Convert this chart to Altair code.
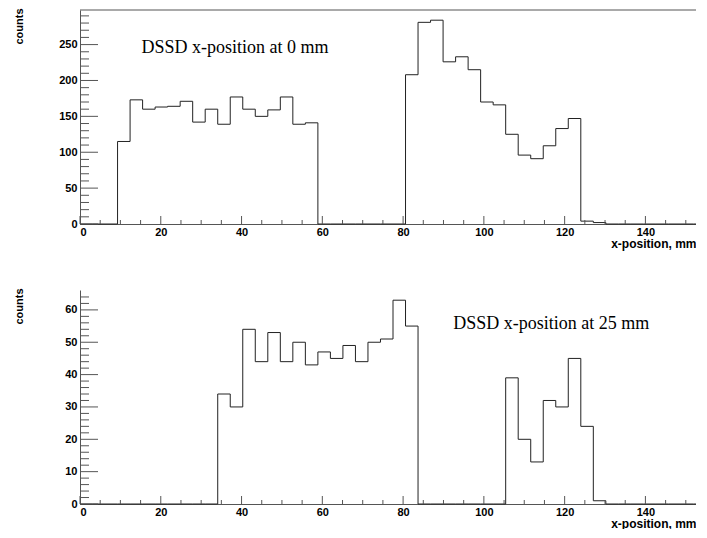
import altair as alt
import pandas as pd

# ---- data ----
BIN_WIDTH = 3.1
N_BINS = 50
X_MAX = 155

top_counts = [0, 0, 0,
              115, 173, 160, 163, 164, 171, 142, 160, 139, 177, 160, 150, 159, 177, 139, 141,
              0, 0, 0, 0, 0, 0, 0,
              208, 281, 284, 226, 233, 215, 170, 166, 125, 96, 91, 109, 133, 147, 4, 2,
              0, 0, 0, 0, 0, 0, 0, 0]

bottom_counts = [0, 0, 0, 0, 0, 0, 0, 0, 0, 0, 0,
                 34, 30, 54, 44, 53, 44, 50, 43, 47, 45, 49, 44, 50, 51, 63, 55,
                 0, 0, 0, 0, 0, 0, 0,
                 39, 20, 13, 32, 30, 45, 24, 1,
                 0, 0, 0, 0, 0, 0, 0, 0]

top_label = "DSSD x-position at 0 mm"
bottom_label = "DSSD x-position at 25 mm"
top_label_pos = (15.2, 238)
bottom_label_pos = (92.4, 54)

x_major = [0, 20, 40, 60, 80, 100, 120, 140]
x_minor = [v for v in range(5, 151, 5) if v % 20 != 0]
top_y_major = [0, 50, 100, 150, 200, 250]
top_y_minor = [v for v in range(10, 291, 10) if v % 50 != 0]
bottom_y_major = [0, 10, 20, 30, 40, 50, 60]
bottom_y_minor = [v for v in range(2, 65, 2) if v % 10 != 0]

W = 626
H = 214
AXIS_COLOR = "#555555"
LINE_COLOR = "#222222"
FONT = "Liberation Sans"


def step_frame(counts):
    edges = [i * BIN_WIDTH for i in range(N_BINS)] + [X_MAX]
    vals = list(counts) + [counts[-1]]
    return pd.DataFrame({"edge": edges, "count": vals})


def panel(counts, y_major, y_minor, label, label_pos, frame_top):
    ymax = max(counts) * 1.05
    xs = alt.Scale(domain=[0, X_MAX], nice=False, zero=False)
    ys = alt.Scale(domain=[0, ymax], nice=False, zero=True)

    x_axis = alt.Axis(values=x_major, format="d", ticks=False, tickSize=0, grid=False,
                      labelPadding=2, labelFont=FONT, labelFontWeight="bold",
                      labelFontSize=11, labelColor="black",
                      domainColor=AXIS_COLOR, domainWidth=1,
                      title="x-position, mm", titleFont=FONT, titleFontSize=12,
                      titleFontWeight="bold", titleColor="black",
                      titleAlign="right", titleBaseline="top",
                      titleX=W - 10, titleY=14)
    y_axis = alt.Axis(values=y_major, format="d", ticks=False, tickSize=0, grid=False,
                      labelPadding=3, labelFont=FONT, labelFontWeight="bold",
                      labelFontSize=11, labelColor="black",
                      domainColor=AXIS_COLOR, domainWidth=1,
                      title="counts", titleFont=FONT, titleFontSize=11,
                      titleFontWeight="bold", titleColor="black",
                      titleAngle=270, titleAlign="right", titleBaseline="top",
                      titleX=-67, titleY=-2)

    def X(field):
        return alt.X(field, scale=xs, axis=x_axis)

    def Y(field):
        return alt.Y(field, scale=ys, axis=y_axis)

    hist = alt.Chart(step_frame(counts)).mark_line(
        interpolate="step-after", color=LINE_COLOR, strokeWidth=1
    ).encode(x=X("edge:Q"), y=Y("count:Q"))

    ymaj = alt.Chart(pd.DataFrame({"v": y_major})).mark_rule(
        color=AXIS_COLOR, strokeWidth=1).encode(
        y=Y("v:Q"), x=alt.value(0), x2=alt.value(18))
    ymin = alt.Chart(pd.DataFrame({"v": y_minor})).mark_rule(
        color=AXIS_COLOR, strokeWidth=1).encode(
        y=Y("v:Q"), x=alt.value(0), x2=alt.value(9))
    xmaj = alt.Chart(pd.DataFrame({"v": x_major})).mark_rule(
        color=AXIS_COLOR, strokeWidth=1).encode(
        x=X("v:Q"), y=alt.value(H), y2=alt.value(H - 8))
    xmin = alt.Chart(pd.DataFrame({"v": x_minor})).mark_rule(
        color=AXIS_COLOR, strokeWidth=1).encode(
        x=X("v:Q"), y=alt.value(H), y2=alt.value(H - 4))

    text = alt.Chart(pd.DataFrame({"x": [label_pos[0]], "y": [label_pos[1]], "t": [label]})).mark_text(
        align="left", baseline="alphabetic", font="Liberation Serif", fontSize=18, color="black"
    ).encode(x=X("x:Q"), y=Y("y:Q"), text="t:N")

    layers = [hist, ymin, ymaj, xmin, xmaj, text]
    if frame_top:
        frame = alt.Chart(pd.DataFrame({"d": [0]})).mark_rule(
            color=AXIS_COLOR, strokeWidth=1).encode(
            y=alt.value(0), x=alt.value(0), x2=alt.value(W))
        layers.append(frame)
    return alt.layer(*layers).properties(width=W, height=H)


top = panel(top_counts, top_y_major, top_y_minor, top_label, top_label_pos, True)
bottom = panel(bottom_counts, bottom_y_major, bottom_y_minor, bottom_label, bottom_label_pos, False)

chart = alt.vconcat(top, bottom, spacing=39).configure_view(strokeWidth=0).properties(
    padding={"left": 5, "top": 0, "right": -12, "bottom": 0},
    background="white",
)

chart.save("out.html", embed_options={"renderer": "svg", "actions": False})
